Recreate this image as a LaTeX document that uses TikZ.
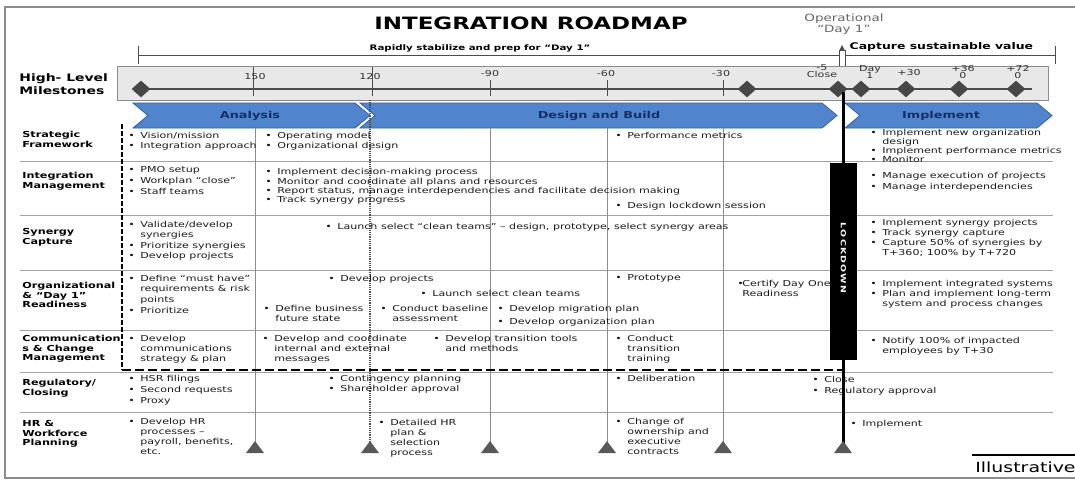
\documentclass[tikz,border=0pt]{standalone}
\usepackage{fontspec}
\setmainfont[FakeStretch=1.35]{DejaVu Sans}
\usetikzlibrary{shapes.geometric}

\definecolor{chevfill}{RGB}{80,132,204}
\definecolor{chevline}{RGB}{50,94,165}
\definecolor{chevtext}{RGB}{24,46,100}
\definecolor{barfill}{RGB}{232,232,232}
\definecolor{gridgray}{RGB}{140,140,140}

\newcommand{\bul}{\makebox[12pt][l]{•}}
\newcommand{\ind}{\hspace*{12pt}}
% small triangle at the foot of a column line
\newcommand{\colfoot}[1]{\fill[black!65] (#1,453) -- ++(9,0) -- ++(-9,-12) -- ++(-9,12) -- cycle;}

\tikzset{
every picture/.style={
line width=0.8pt
},
cell/.style={anchor=north west, align=left, inner sep=0pt, text=black!90,
  font=\fontsize{8.2}{10}\selectfont},
rowlabel/.style={anchor=west, align=left, inner sep=0pt,
  font=\bfseries\fontsize{8.3}{9.6}\selectfont},
milestone/.style={diamond, fill=black!72, inner sep=0pt,
  minimum width=19pt, minimum height=17pt},
ticklabel/.style={inner sep=0pt, text=black!80, align=center,
  font=\fontsize{8.2}{7.8}\selectfont},
rowline/.style={draw=gridgray!80, line width=0.9pt},
colline/.style={draw=gridgray, line width=0.8pt},
phase/.style={fill=chevfill, draw=chevline, line width=0.8pt},
phaselabel/.style={text=chevtext, font=\bfseries\fontsize{9.5}{10}\selectfont}
}

\begin{document}
\begin{tikzpicture}[x=1pt, y=-1pt]
      \useasboundingbox (0,0) rectangle (1075,480);
      \draw [black!45, line width=1.5pt] (5,7) rectangle (1090,478);

      \node [font=\bfseries\fontsize{17}{17}\selectfont] (title) at (531,23) {INTEGRATION ROADMAP};
      \node [font=\bfseries\fontsize{7.6}{8}\selectfont] (stab) at (480,48) {Rapidly stabilize and prep for ``Day 1''};
      \node [text=black!60, align=center, font=\fontsize{10}{10.5}\selectfont] (opday) at (844,24) {Operational\\``Day 1''};
      \node [anchor=west, font=\bfseries\fontsize{9.2}{9}\selectfont] (capt) at (846,47) {Capture sustainable value};

      % brackets over the time line
      \draw [black!70] (138,46) -- (138,64);
      \draw [black!70] (138,55) -- (839,55);
      \draw [black!70] (839,66) -- (839,50) -- (845,50) -- (845,66);
      \fill [black!70] (842,45) -- (839.5,50) -- (844.5,50) -- cycle;
      \draw [black!70] (845,55) -- (1055,55);
      \draw [black!70] (1055,46) -- (1055,64);

      % milestone bar
      \node [rowlabel, font=\bfseries\fontsize{10.3}{13}\selectfont] (hlm) at (19,84) {High- Level\\Milestones};
      \draw [fill=barfill, draw=black!45] (117,66) rectangle (1048,100);
      \draw [black!70, line width=1.2pt] (141,89) -- (1032,89);
      \draw [black!70] (253,67) -- (253,96);
      \draw [black!70] (372,67) -- (372,96);
      \draw [black!70] (490,80) -- (490,96);
      \draw [black!70] (607,80) -- (607,96);
      \draw [black!70] (723,80) -- (723,96);
      \node [ticklabel] (t150) at (255,77) {150};
      \node [ticklabel] (t120) at (370,77) {120};
      \node [ticklabel] (t90) at (490,74) {-90};
      \node [ticklabel] (t60) at (606,74) {-60};
      \node [ticklabel] (t30) at (721,74) {-30};
      \node [ticklabel] (tclose) at (822,71) {-5\\Close};
      \node [ticklabel] (tday) at (870,72) {Day\\1};
      \node [ticklabel] (t30p) at (909,73) {+30};
      \node [ticklabel] (t360) at (963,72) {+36\\0};
      \node [ticklabel] (t720) at (1018,72) {+72\\0};
      \node [milestone] (m0) at (141,89) {};
      \node [milestone] (m1) at (747,89) {};
      \node [milestone] (m2) at (838,89) {};
      \node [milestone] (m3) at (861,89) {};
      \node [milestone] (m4) at (906,89) {};
      \node [milestone] (m5) at (959,89) {};
      \node [milestone] (m6) at (1016,89) {};

      % phases
      \draw [phase] (360,103) -- (822,103) -- (837,115.5) -- (822,128) -- (360,128) -- (375,115.5) -- cycle;
      \draw [phase] (133,103) -- (355,103) -- (370,115.5) -- (355,128) -- (133,128) -- (148,115.5) -- cycle;
      \draw [phase] (845,103) -- (1037,103) -- (1052,115.5) -- (1037,128) -- (845,128) -- (860,115.5) -- cycle;
      \node [phaselabel] (analysis) at (250,116) {Analysis};
      \node [phaselabel] (design) at (599,116) {Design and Build};
      \node [phaselabel] (impl) at (941,116) {Implement};

      % grid
      \draw [rowline] (20,161) -- (1053,161);
      \draw [rowline] (20,215) -- (1053,215);
      \draw [rowline] (20,270) -- (1053,270);
      \draw [rowline] (20,330) -- (1053,330);
      \draw [rowline] (20,372) -- (1053,372);
      \draw [rowline] (20,412) -- (1053,412);
      \draw [colline] (255,128) -- (255,447);
      \draw [colline] (490,128) -- (490,447);
      \draw [colline] (607,128) -- (607,447);
      \draw [colline] (723,128) -- (723,447);
      \draw [black!70, line width=1.2pt, densely dotted] (370,100) -- (370,447);
      \draw [line width=2.4pt, dash pattern=on 5pt off 2pt] (122,124) -- (122,370);
      \draw [line width=2.4pt, dash pattern=on 9pt off 4pt] (122,370) -- (843,370);
      \colfoot{255} \colfoot{370} \colfoot{490} \colfoot{607} \colfoot{723}

      % row labels
      \node [rowlabel] (strat-l) at (22,139.5) {Strategic\\Framework};
      \node [rowlabel] (integ-l) at (22,181) {Integration\\Management};
      \node [rowlabel] (syn-l) at (22,237) {Synergy\\Capture};
      \node [rowlabel] (org-l) at (22,295) {Organizational\\\& ``Day 1''\\Readiness};
      \node [rowlabel] (comm-l) at (22,349) {Communication\\s \& Change\\Management};
      \node [rowlabel] (reg-l) at (22,388) {Regulatory/\\Closing};
      \node [rowlabel] (hr-l) at (22,434) {HR \&\\Workforce\\Planning};

      % cells
      \node [cell] (strat-a) at (128,131.5) {\bul Vision/mission\\\bul Integration approach};
      \node [cell] (strat-b) at (265,131.5) {\bul Operating model\\\bul Organizational design};
      \node [cell] (strat-c) at (615,131.5) {\bul Performance metrics};
      \node [cell, font=\fontsize{8.2}{9.2}\selectfont] (strat-d) at (870,128.5) {\bul Implement new organization\\\ind design\\\bul Implement performance metrics\\\bul Monitor};

      \node [cell, font=\fontsize{8.2}{11}\selectfont] (integ-a) at (128,166.5) {\bul PMO setup\\\bul Workplan ``close''\\\bul Staff teams};
      \node [cell, font=\fontsize{8.2}{9.4}\selectfont] (integ-b) at (265,168) {\bul Implement decision-making process\\\bul Monitor and coordinate all plans and resources\\\bul Report status, manage interdependencies and facilitate decision making\\\bul Track synergy progress};
      \node [cell] (integ-c) at (615,201.5) {\bul Design lockdown session};
      \node [cell, font=\fontsize{8.2}{11}\selectfont] (integ-d) at (870,171.5) {\bul Manage execution of projects\\\bul Manage interdependencies};

      \node [cell, font=\fontsize{8.2}{10.6}\selectfont] (syn-a) at (128,220.5) {\bul Validate/develop\\\ind synergies\\\bul Prioritize synergies\\\bul Develop projects};
      \node [cell] (syn-b) at (325,222.5) {\bul Launch select ``clean teams'' -- design, prototype, select synergy areas};
      \node [cell] (syn-c) at (870,218.5) {\bul Implement synergy projects\\\bul Track synergy capture\\\bul Capture 50\% of synergies by\\\ind T+360; 100\% by T+720};

      \node [cell, font=\fontsize{8.2}{10.8}\selectfont] (org-a) at (128,274.5) {\bul Define ``must have''\\\ind requirements \& risk\\\ind points\\\bul Prioritize};
      \node [cell] (org-b) at (263,304.5) {\bul Define business\\\ind future state};
      \node [cell] (org-c) at (328,274.5) {\bul Develop projects};
      \node [cell] (org-d) at (420,289.5) {\bul Launch select clean teams};
      \node [cell] (org-e) at (380,304.5) {\bul Conduct baseline\\\ind assessment};
      \node [cell] (org-f) at (497,304.5) {\bul Develop migration plan};
      \node [cell] (org-g) at (497,317.5) {\bul Develop organization plan};
      \node [cell] (org-h) at (615,274.5) {\bul Prototype};
      \node [cell] (org-i) at (737,279.5) {\makebox[5pt][l]{•}Certify Day One\\\hspace*{5pt}Readiness};
      \node [cell] (org-j) at (870,279.5) {\bul Implement integrated systems\\\bul Plan and implement long-term\\\ind system and process changes};

      \node [cell] (comm-a) at (128,334.5) {\bul Develop\\\ind communications\\\ind strategy \& plan};
      \node [cell] (comm-b) at (262,334.5) {\bul Develop and coordinate\\\ind internal and external\\\ind messages};
      \node [cell] (comm-c) at (433,334.5) {\bul Develop transition tools\\\ind and methods};
      \node [cell] (comm-d) at (615,334.5) {\bul Conduct\\\ind transition\\\ind training};
      \node [cell] (comm-e) at (870,336.5) {\bul Notify 100\% of impacted\\\ind employees by T+30};

      \node [cell, font=\fontsize{8.2}{11}\selectfont] (reg-a) at (128,374.5) {\bul HSR filings\\\bul Second requests\\\bul Proxy};
      \node [cell] (reg-b) at (328,374.5) {\bul Contingency planning\\\bul Shareholder approval};
      \node [cell] (reg-c) at (615,374.5) {\bul Deliberation};
      \node [cell, font=\fontsize{8.2}{11}\selectfont] (reg-d) at (812,375.5) {\bul Close\\\bul Regulatory approval};

      \node [cell] (hr-a) at (128,417.5) {\bul Develop HR\\\ind processes --\\\ind payroll, benefits,\\\ind etc.};
      \node [cell] (hr-b) at (378,418.5) {\bul Detailed HR\\\ind plan \&\\\ind selection\\\ind process};
      \node [cell] (hr-c) at (615,417.5) {\bul Change of\\\ind ownership and\\\ind executive\\\ind contracts};
      \node [cell] (hr-d) at (850,419.5) {\bul Implement};

      % lockdown
      \draw [line width=3pt] (843,92) -- (843,447);
      \fill (830,163) rectangle (857,360);
      \node [rotate=-90, text=white, inner sep=0pt, font=\bfseries\fontsize{7}{7}\selectfont] (lock) at (843.5,258) {L\,O\,C\,K\,D\,O\,W\,N};
      \colfoot{843}

      \draw [line width=2.5pt] (972,455) -- (1080,455);
      \node [anchor=west, inner sep=0pt, font=\fontsize{14}{14}\selectfont] (illus) at (975,467) {Illustrative};
    \end{tikzpicture}
\end{document}
